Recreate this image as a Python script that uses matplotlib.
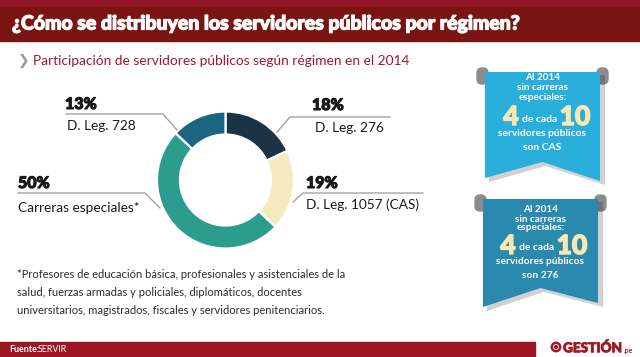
import matplotlib
matplotlib.use("Agg")
import matplotlib.pyplot as plt
import matplotlib.patheffects as pe
from matplotlib.patches import Polygon, Rectangle, FancyBboxPatch, Circle

# ---------------- data ----------------
categories = ["D. Leg. 276", "D. Leg. 1057 (CAS)", "Carreras especiales*", "D. Leg. 728"]
values = [18, 19, 50, 13]
pct_labels = ["18%", "19%", "50%", "13%"]
colors = ["#1b3344", "#f5eac0", "#2a9d8f", "#1c6580"]

title = "¿Cómo se distribuyen los servidores públicos por régimen?"
subtitle = "Participación de servidores públicos según régimen en el 2014"
footnote = ["*Profesores de educación básica, profesionales y asistenciales de la",
            "salud, fuerzas armadas y policiales, diplomáticos, docentes",
            "universitarios, magistrados, fiscales y servidores penitenciarios."]
ribbon1 = ["Al 2014", "sin carreras", "especiales:", "4", "de cada", "10", "servidores públicos", "son CAS"]
ribbon2 = ["Al 2014", "sin carreras", "especiales:", "4", "de cada", "10", "servidores públicos", "son 276"]
source_label = "Fuente:"
source = "SERVIR"

W, H = 640, 357
FONT = "Lato"

fig = plt.figure(figsize=(6.4, 3.57), dpi=100)
ax = fig.add_axes([0, 0, 1, 1])
ax.set_xlim(0, W)
ax.set_ylim(0, H)
ax.axis("off")


def Y(y):
    return H - y


def heavy(color, w=0.7):
    return [pe.withStroke(linewidth=w, foreground=color)]


# header
ax.add_patch(Rectangle((0, Y(7)), W, 7, color="#921428", zorder=1))
ax.add_patch(Rectangle((0, Y(41)), W, 34, color="#7a1413", zorder=1))
ax.text(12, Y(24), title, color="white", fontsize=14.0, fontweight="black",
        family=FONT, va="center", ha="left", zorder=2, path_effects=heavy("white", 0.9))

# subtitle
ax.text(18, Y(61), "❯", color="#9a9a9a", fontsize=10, family="DejaVu Sans",
        va="center", ha="left", fontweight="bold")
ax.text(33, Y(61), subtitle, color="#a0182a", fontsize=9.9, family=FONT,
        va="center", ha="left")

# donut
cx, cy, R = 225.5, Y(180), 68.5
ax.pie(values, colors=colors, startangle=90, counterclock=False,
       center=(cx, cy), radius=R, frame=True,
       wedgeprops=dict(width=23, edgecolor="white", linewidth=1.6))
ax.set_xlim(0, W)
ax.set_ylim(0, H)
ax.axis("off")
ax.set_aspect("auto")

# leader lines
lc = "#9a9a9a"
lines = [
    [(390, 117), (290, 117), (277, 132)],   # 18%
    [(423, 193), (303, 193), (293, 202)],   # 19%
    [(18, 193), (145, 193), (160, 208)],    # 50%
    [(66, 114), (163, 114), (177, 130)],    # 13%
]
for pts in lines:
    ax.plot([p[0] for p in pts], [Y(p[1]) for p in pts], color=lc, lw=0.9, zorder=3)

label_pos = [
    (312, 105, 315, 128),
    (306, 183, 306, 205),
    (18, 183, 18, 208),
    (65, 104, 67, 126),
]
for (px, py, lx, ly), p, c in zip(label_pos, pct_labels, categories):
    ax.text(px, Y(py), p, fontsize=11.5, fontweight="black", family=FONT,
            color="#1a1a1a", va="center", ha="left", path_effects=heavy("#1a1a1a", 0.8))
    ax.text(lx, Y(ly), c, fontsize=9.8, family=FONT, color="#1a1a1a",
            va="center", ha="left")

# footnote
for i, line in enumerate(footnote):
    ax.text(17, Y(275 + 18 * i), line, fontsize=8.0, family=FONT, color="#2b2b2b",
            va="center", ha="left")


# ribbons
def ribbon(x0, x1, top, bl, notch, br, color, texts, ys, num_y, num_x):
    xm = (x0 + x1) / 2
    # rod knobs at the two upper corners
    for kx in (x0 - 8, x1 - 3):
        ax.add_patch(FancyBboxPatch((kx, Y(top + 12)), 11, 16,
                                    boxstyle="round,pad=0,rounding_size=5",
                                    color="#8c8c8c", zorder=4))
    # shadow
    sh = [(x0 + 4, Y(top + 3)), (x1 + 5, Y(top + 3)), (x1 + 5, Y(br + 4)),
          (xm + 3, Y(notch + 4)), (x0 + 4, Y(bl + 4))]
    ax.add_patch(Polygon(sh, closed=True, color="#000000", alpha=0.18, zorder=4.5, lw=0))
    pts = [(x0, Y(top)), (x1, Y(top)), (x1, Y(br)), (xm, Y(notch)), (x0, Y(bl))]
    ax.add_patch(Polygon(pts, closed=True, color=color, zorder=5, lw=0))
    for t, yy in zip(texts[:3], ys[:3]):
        ax.text(xm, Y(yy), t, color="white", fontsize=7.2, fontweight="bold",
                family=FONT, ha="center", va="center", zorder=6, linespacing=1)
    ax.text(num_x[0], Y(num_y), texts[3], color="#fbe8b0", fontsize=19,
            fontweight="black", family=FONT, ha="center", va="center", zorder=6,
            path_effects=heavy("#fbe8b0", 1.0))
    ax.text(num_x[1], Y(num_y + 2), texts[4], color="white", fontsize=7.4,
            fontweight="bold", family=FONT, ha="center", va="center", zorder=6)
    ax.text(num_x[2], Y(num_y), texts[5], color="#fbe8b0", fontsize=19,
            fontweight="black", family=FONT, ha="center", va="center", zorder=6,
            path_effects=heavy("#fbe8b0", 1.0))
    for t, yy in zip(texts[6:], ys[3:]):
        ax.text(xm, Y(yy), t, color="white", fontsize=7.4, fontweight="bold",
                family=FONT, ha="center", va="center", zorder=6)


ribbon(485, 600, 72, 178, 162, 181, "#2aaedb", ribbon1,
       [78, 88, 97, 134, 147], 117, (511, 540, 575))
ribbon(483, 598, 199, 307, 288, 303, "#2a89af", ribbon2,
       [210, 219, 228, 262, 275], 246, (508, 537, 572))

# footer
ax.add_patch(Rectangle((0, 0), 535, Y(342), color="#9b1522", zorder=1))
ax.text(9, Y(350), source_label, color="white", fontsize=6.4,
        fontweight="bold", family=FONT, va="center", ha="left")
ax.text(38, Y(350), source, color="white", fontsize=6.4, family=FONT,
        va="center", ha="left")

# logo
ax.add_patch(Circle((556, Y(347)), 4.2, fill=False, ec="#a01c24", lw=1.8, zorder=3))
ax.add_patch(Circle((556, Y(347)), 1.4, color="#a01c24", zorder=3))
ax.text(563, Y(348), "GESTIÓN", color="#a01c24", fontsize=9.8, fontweight="black",
        family=FONT, va="center", ha="left", path_effects=heavy("#a01c24", 0.6))
ax.text(624, Y(351), ".pe", color="#a01c24", fontsize=5, fontweight="bold",
        family=FONT, va="center", ha="left")

fig.savefig("out.png", dpi=100)
